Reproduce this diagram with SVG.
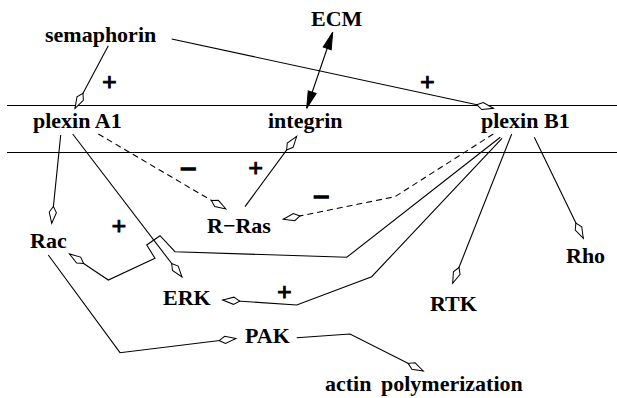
<svg xmlns="http://www.w3.org/2000/svg" width="617" height="398" viewBox="0 0 617 398">
  <style>
    .lbl { font-family: "Liberation Serif", "Times New Roman", serif; font-weight: bold; font-size: 22px; fill: #000; }
    .sign { font-family: "Liberation Serif", "Times New Roman", serif; font-weight: bold; font-size: 26px; fill: #000; stroke: #000; stroke-width: 0.9; text-anchor: middle; }
    .minus { font-size: 30px; stroke-width: 1.4; }
    .edge { fill: none; stroke: #000; stroke-width: 1.1; }
    .act { marker-end: url(#kite); }
    .dash { stroke-dasharray: 6 4; }
    .membrane { stroke: #000; stroke-width: 1.2; }
  </style>
  <defs>
    <!-- open kite-shaped arrowhead -->
    <marker id="kite" markerUnits="userSpaceOnUse" orient="auto" refX="0" refY="0" markerWidth="20" markerHeight="10" overflow="visible">
      <path d="M0,0 L-11,-3.6 L-17,0 L-11,3.6 Z" fill="#fff" stroke="#000" stroke-width="1" stroke-linejoin="miter"/>
    </marker>
    <!-- filled arrowhead for the binding arrow -->
    <marker id="solid" markerUnits="userSpaceOnUse" orient="auto-start-reverse" refX="0" refY="0" markerWidth="20" markerHeight="10" overflow="visible">
      <path d="M0,0 L-17,-4.2 L-17,4.2 Z" fill="#000" stroke="#000" stroke-width="1"/>
    </marker>
  </defs>

  <rect width="617" height="398" fill="#fff"/>

  <!-- membrane -->
  <g id="membrane">
    <line class="membrane" x1="7" y1="105.5" x2="617" y2="105.5"/>
    <line class="membrane" x1="7" y1="152.5" x2="617" y2="152.5"/>
  </g>

  <!-- connectors -->
  <g id="connectors">
    <!-- semaphorin -> plexin A1 -->
    <path class="edge act" d="M108.3,45.7 L75,108.3"/>
    <!-- semaphorin -> plexin B1 -->
    <path class="edge act" d="M171.7,39 L493.3,108.3"/>
    <!-- ECM <-> integrin -->
    <path class="edge" d="M332.7,32.3 L306.7,108.3" marker-start="url(#solid)" marker-end="url(#solid)"/>
    <!-- R-Ras -> integrin -->
    <path class="edge act" d="M245,206.7 L296.7,136.3"/>
    <!-- plexin A1 -> Rac -->
    <path class="edge act" d="M60.7,135 L51.7,223.3"/>
    <!-- plexin A1 -> ERK -->
    <path class="edge act" d="M72.7,134 L182,277"/>
    <!-- plexin A1 -| R-Ras (dashed) -->
    <path class="edge act dash" d="M98.3,134 L226,209"/>
    <!-- plexin B1 -> Rac, hopping over the plexin A1 -> ERK line -->
    <path class="edge act" d="M500.3,137.3 L346.7,257.3 L175,251.7 L160,235.7 L146.7,245 L155,258.3 L108.3,280 L69.5,254"/>
    <!-- plexin B1 -> ERK -->
    <path class="edge act" d="M502,138.3 L371.7,276.7 L296.7,305 L222.7,300"/>
    <!-- plexin B1 -| R-Ras (dashed) -->
    <path class="edge act dash" d="M493.3,134 L395,196.7 L283.3,219.3"/>
    <!-- plexin B1 -> RTK -->
    <path class="edge act" d="M511.7,134 L452.7,283.3"/>
    <!-- plexin B1 -> Rho -->
    <path class="edge act" d="M534.3,137.3 L583.3,238.3"/>
    <!-- Rac -> PAK -->
    <path class="edge act" d="M48.3,255 L120,352.7 L236,338.5"/>
    <!-- PAK -> actin polymerization -->
    <path class="edge act" d="M296.7,337.7 L350,334 L423.3,371"/>
  </g>

  <!-- nodes -->
  <g id="semaphorin"><text class="lbl" x="45" y="42">semaphorin</text></g>
  <g id="ECM"><text class="lbl" x="311" y="26">ECM</text></g>
  <g id="plexinA1"><text class="lbl" x="33" y="128">plexin A1</text></g>
  <g id="integrin"><text class="lbl" x="268" y="128">integrin</text></g>
  <g id="plexinB1"><text class="lbl" x="481" y="128">plexin B1</text></g>
  <g id="Rac"><text class="lbl" x="30" y="248">Rac</text></g>
  <g id="RRas"><text class="lbl" x="207" y="233">R−Ras</text></g>
  <g id="ERK"><text class="lbl" x="163" y="305">ERK</text></g>
  <g id="PAK"><text class="lbl" x="245" y="343">PAK</text></g>
  <g id="RTK"><text class="lbl" x="430" y="311">RTK</text></g>
  <g id="Rho"><text class="lbl" x="566" y="263">Rho</text></g>
  <g id="actin"><text class="lbl" x="325" y="391">actin<tspan x="381">polymerization</tspan></text></g>

  <!-- interaction signs -->
  <g id="signs">
    <text class="sign" x="109.3" y="91">+</text>
    <text class="sign" x="427.3" y="91">+</text>
    <text class="sign" x="255.7" y="177">+</text>
    <text class="sign" x="119" y="235">+</text>
    <text class="sign" x="284.3" y="300.5">+</text>
    <text class="sign minus" x="188" y="179">−</text>
    <text class="sign minus" x="321" y="207">−</text>
  </g>
</svg>
